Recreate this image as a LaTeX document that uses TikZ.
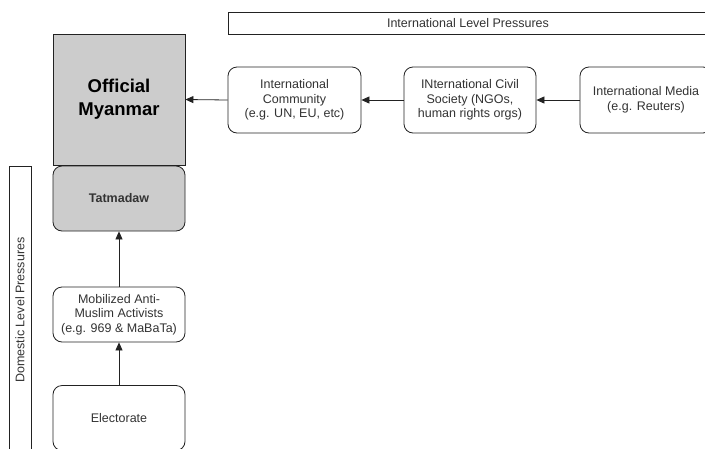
\documentclass[tikz,border=0pt]{standalone}
\usepackage{fontspec}
\setmainfont{Liberation Sans}
\usetikzlibrary{arrows.meta}
\definecolor{txt}{HTML}{333333}
\definecolor{ln}{HTML}{222222}
\definecolor{grayfill}{HTML}{CCCCCC}
\tikzset{
  base/.style={draw=ln, line width=0.8pt, inner sep=0pt, align=center, text=txt,
    font=\fontsize{12.5}{14.5}\selectfont},
  rbox/.style={base, rounded corners=9pt, minimum width=132pt},
  sbox/.style={base, minimum width=132pt},
  conn/.style={draw=ln, line width=0.8pt, -{Triangle[width=7pt,length=8pt]}}
}
\begin{document}
\begin{tikzpicture}[x=1pt,y=-1pt]
\clip (0,0) rectangle (705,448);
\fill[white] (0,0) rectangle (705,448);
\node[sbox, fill=grayfill, minimum height=131pt, text=black,
  font=\fontsize{18.5}{23}\selectfont\bfseries] (om) at (119,99.5) {Official\\Myanmar};
\node[rbox, fill=grayfill, minimum height=65pt, font=\fontsize{12.5}{14.5}\selectfont\bfseries] (tat) at (119,198.5) {Tatmadaw};
\node[rbox, minimum height=55pt] (mob) at (119,314.5) {Mobilized Anti-\\Muslim Activists\\(e.g. 969 \& MaBaTa)};
\node[rbox, minimum height=65pt] (ele) at (119,418) {Electorate};
\node[sbox, minimum width=288pt, minimum height=22pt, rotate=90] (dom) at (20,310) {Domestic Level Pressures};
\node[sbox, minimum width=480pt, minimum height=22pt] (intl) at (468,23) {International Level Pressures};
\node[rbox, minimum width=133pt, minimum height=66pt] (com) at (294.5,100) {International\\Community\\(e.g. UN, EU, etc)};
\node[rbox, minimum height=66pt] (civ) at (470,100) {INternational Civil\\Society (NGOs,\\human rights orgs)};
\node[rbox, minimum height=66pt] (med) at (646,100) {International Media\\(e.g. Reuters)};
\draw[conn] (com.west) -- (om.east);
\draw[conn] (civ.west) -- (com.east);
\draw[conn] (med.west) -- (civ.east);
\draw[conn] (mob.north) -- (tat.south);
\draw[conn] (ele.north) -- (mob.south);
\end{tikzpicture}
\end{document}
